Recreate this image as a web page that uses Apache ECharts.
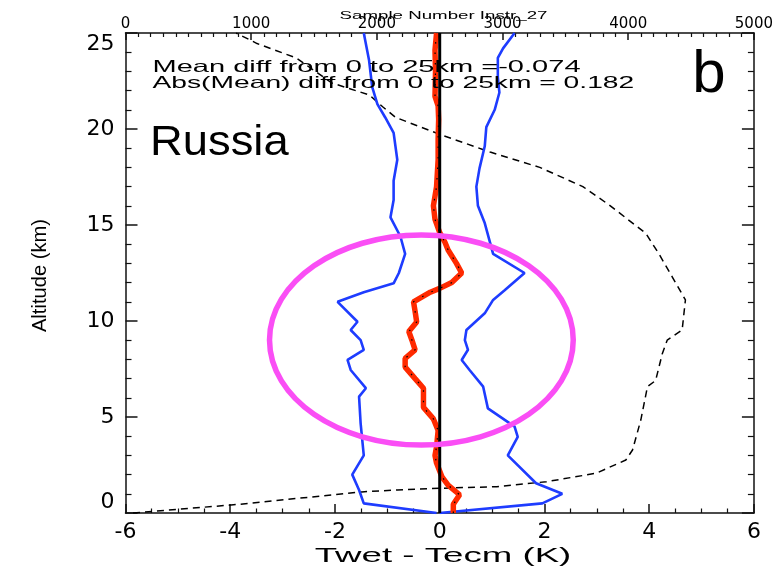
<!DOCTYPE html>
<html><head><meta charset="utf-8">
<script src="https://cdn.jsdelivr.net/npm/echarts@6/dist/echarts.min.js"></script>
<style>html,body{margin:0;padding:0;background:#fff}#c{width:776px;height:570px}</style>
</head><body><div id="c"></div>
<script>
// Tick values
const diffTicks = [-6, -4, -2, 0, 2, 4, 6];
const altTicks = [0, 5, 10, 15, 20, 25];
const sampleTicks = [0, 1000, 2000, 3000, 4000, 5000];

// Mean difference (red)
const meanAlt = [0, 0.45, 0.95, 1.45, 1.9, 2.6, 3.0, 3.45, 4.3, 4.9, 5.5, 6.5, 7.0, 7.6, 8.05, 8.5, 9.0, 9.45, 9.95, 10.5, 11.0, 11.5, 11.7, 12.0, 12.5, 13.0, 13.7, 14.1, 14.6, 15.3, 16.0, 17.0, 18.4, 19.5, 20.5, 21.2, 21.7, 23.0, 24.1, 25];
const meanDiff = [0.26, 0.26, 0.38, 0.16, 0.04, -0.06, -0.09, -0.06, -0.03, -0.12, -0.31, -0.31, -0.47, -0.66, -0.66, -0.47, -0.53, -0.59, -0.44, -0.47, -0.50, -0.18, 0.0, 0.23, 0.42, 0.32, 0.16, 0.10, 0.0, -0.09, -0.12, -0.06, -0.03, -0.03, -0.02, -0.03, -0.09, -0.08, -0.09, -0.06];

// Mean - std (left blue)
const lowAlt = [0, 0.5, 1.2, 2.0, 3.0, 4.67, 6.06, 6.5, 7.45, 7.97, 8.5, 9.0, 9.53, 9.96, 11.0, 11.5, 11.96, 12.5, 13.5, 14.4, 15.4, 16.3, 17.3, 18.4, 19.8, 20.6, 21.3, 22.2, 23.6, 25];
const lowDiff = [-0.06, -1.45, -1.54, -1.67, -1.45, -1.51, -1.54, -1.41, -1.70, -1.76, -1.45, -1.51, -1.70, -1.57, -1.95, -1.45, -0.88, -0.78, -0.66, -0.75, -0.94, -0.88, -0.88, -0.81, -0.88, -1.04, -1.19, -1.29, -1.35, -1.45];

// Mean + std (right blue)
const highAlt = [0, 0.5, 1.0, 1.55, 3.0, 3.97, 4.5, 5.45, 6.58, 7.45, 7.97, 8.5, 9.0, 9.53, 10.4, 11.1, 11.6, 12.5, 13.5, 14.2, 15.1, 16.0, 17.0, 17.95, 19.1, 20.1, 21.0, 21.9, 22.7, 23.7, 24.2, 25];
const highDiff = [0.0, 1.96, 2.34, 1.84, 1.30, 1.49, 1.43, 0.92, 0.83, 0.57, 0.42, 0.54, 0.48, 0.51, 0.86, 1.02, 1.24, 1.62, 1.02, 0.95, 0.86, 0.73, 0.70, 0.76, 0.86, 0.89, 1.05, 1.14, 1.11, 1.11, 1.21, 1.43];

// Sample number (dashed, top axis)
const sampleAlt = [0, 0.45, 1.1, 1.2, 1.29, 1.37, 1.63, 2.07, 2.76, 3.28, 4.84, 6.58, 6.9, 8.3, 9.0, 9.53, 11.1, 12.3, 13.5, 14.57, 16.04, 17.0, 18.0, 18.8, 19.7, 20.6, 21.16, 21.77, 22.4, 23.7, 24.45, 25];
const sampleNum = [60, 900, 1880, 2164, 2506, 2954, 3349, 3744, 3981, 4034, 4100, 4153, 4218, 4271, 4310, 4429, 4455, 4350, 4244, 4139, 3849, 3639, 3296, 2901, 2510, 2150, 2046, 1941, 1641, 1359, 1047, 880];

// Zero reference line
const zeroX = [0, 0];
const zeroAlt = [0, 25];

// Highlight ellipse (data units)
const ellipseCenter = [-0.35, 9.01];
const ellipseRadii = [2.9, 5.47];

const zip = (xs, ys) => xs.map((v, i) => [v, ys[i]]);

const chart = echarts.init(document.getElementById('c'));
const axisLineStyle = { color: '#111', width: 1.5 };
const lblFont = 'DejaVu Sans';
const plain = v => String(v);

const option = {
  animation: false,
  backgroundColor: '#fff',
  grid: { left: 125.5, right: 16.5, top: 33, bottom: 57, containLabel: false },
  xAxis: [
    {
      type: 'value', position: 'bottom',
      min: diffTicks[0], max: diffTicks[diffTicks.length - 1], interval: diffTicks[1] - diffTicks[0],
      axisLine: { show: true, onZero: false, lineStyle: axisLineStyle },
      axisTick: { show: true, inside: true, length: 9, lineStyle: axisLineStyle },
      minorTick: { show: true, splitNumber: 4, length: 4.5, lineStyle: { color: '#111', width: 1.2 } },
      splitLine: { show: false },
      axisLabel: { color: '#000', fontFamily: lblFont, fontSize: 22, margin: 8, formatter: plain }
    },
    {
      type: 'value', position: 'top',
      min: sampleTicks[0], max: sampleTicks[sampleTicks.length - 1], interval: sampleTicks[1] - sampleTicks[0],
      axisLine: { show: true, onZero: false, lineStyle: axisLineStyle },
      axisTick: { show: true, inside: true, length: 7, lineStyle: axisLineStyle },
      minorTick: { show: true, splitNumber: 10, length: 4, lineStyle: { color: '#111', width: 1.2 } },
      splitLine: { show: false },
      axisLabel: { color: '#000', fontFamily: lblFont, fontSize: 15, margin: 1, formatter: plain }
    }
  ],
  yAxis: [
    {
      type: 'value', position: 'left',
      min: altTicks[0], max: altTicks[altTicks.length - 1], interval: altTicks[1] - altTicks[0],
      axisLine: { show: true, onZero: false, lineStyle: axisLineStyle },
      axisTick: { show: true, inside: true, length: 12, lineStyle: axisLineStyle },
      minorTick: { show: true, splitNumber: 5, length: 6, lineStyle: { color: '#111', width: 1.2 } },
      splitLine: { show: false },
      axisLabel: { color: '#000', fontFamily: lblFont, fontSize: 22, margin: 11, formatter: plain,
        verticalAlignMaxLabel: 'top', verticalAlignMinLabel: 'bottom' }
    },
    {
      type: 'value', position: 'right',
      min: altTicks[0], max: altTicks[altTicks.length - 1], interval: altTicks[1] - altTicks[0],
      axisLine: { show: true, onZero: false, lineStyle: axisLineStyle },
      axisTick: { show: true, inside: true, length: 12, lineStyle: axisLineStyle },
      minorTick: { show: true, splitNumber: 5, length: 6, lineStyle: { color: '#111', width: 1.2 } },
      splitLine: { show: false },
      axisLabel: { show: false }
    }
  ],
  series: [
    {
      name: 'Sample Number', type: 'line', xAxisIndex: 1, yAxisIndex: 0,
      data: zip(sampleNum, sampleAlt), symbol: 'none', z: 2,
      lineStyle: { color: '#000', width: 1.5, type: [7, 5] }
    },
    {
      name: 'Mean - std', type: 'line', xAxisIndex: 0, yAxisIndex: 0,
      data: zip(lowDiff, lowAlt), symbol: 'none', z: 3,
      lineStyle: { color: '#1e3cff', width: 2.6 }
    },
    {
      name: 'Mean + std', type: 'line', xAxisIndex: 0, yAxisIndex: 0,
      data: zip(highDiff, highAlt), symbol: 'none', z: 3,
      lineStyle: { color: '#1e3cff', width: 2.6 }
    },
    {
      name: 'Mean diff', type: 'line', xAxisIndex: 0, yAxisIndex: 0,
      data: zip(meanDiff, meanAlt), symbol: 'none', z: 4,
      lineStyle: { color: '#ff2a00', width: 5.5 }
    },
    {
      name: 'Mean diff dots', type: 'line', xAxisIndex: 0, yAxisIndex: 0,
      data: zip(meanDiff, meanAlt), symbol: 'none', z: 5,
      lineStyle: { color: '#000', width: 1.2, type: [1.5, 9] }
    },
    {
      name: 'Zero', type: 'line', xAxisIndex: 0, yAxisIndex: 0,
      data: zip(zeroX, zeroAlt), symbol: 'none', z: 6,
      lineStyle: { color: '#000', width: 3 }
    }
  ]
};
chart.setOption(option);

const pc = chart.convertToPixel({ xAxisIndex: 0, yAxisIndex: 0 }, ellipseCenter);
const pr = chart.convertToPixel({ xAxisIndex: 0, yAxisIndex: 0 }, [ellipseCenter[0] + ellipseRadii[0], ellipseCenter[1] + ellipseRadii[1]]);

const txt = (id, text, x, y, font, align, valign, scaleX, extra) => Object.assign({
  type: 'text', id, x, y, scaleX: scaleX || 1, z: 120,
  style: { text, font, fill: '#000', textAlign: align, textVerticalAlign: valign }
}, extra || {});

chart.setOption({
  graphic: [
    {
      type: 'ellipse', id: 'ell', z: 110,
      shape: { cx: pc[0], cy: pc[1], rx: pr[0] - pc[0], ry: pc[1] - pr[1] },
      style: { fill: 'none', stroke: '#fa4ef5', lineWidth: 5.5 }
    },
    txt('t1', 'Mean diff from 0 to 25km =-0.074', 152.5, 67, '16.5px "Liberation Sans"', 'left', 'middle', 1.76),
    txt('t2', 'Abs(Mean) diff from 0 to 25km = 0.182', 152.5, 83.5, '16.5px "Liberation Sans"', 'left', 'middle', 1.71),
    txt('t3', 'Russia', 150, 143, '42px "Liberation Sans"', 'left', 'middle', 1.08),
    txt('t4', 'b', 709, 75, '60px "Liberation Sans"', 'center', 'middle', 1),
    txt('t5', 'Sample Number Instr_27', 443.5, 15.5, '11px "Liberation Sans"', 'center', 'middle', 1.7),
    txt('t6', 'Twet - Tecm (K)', 443, 557, '19.5px "Liberation Sans"', 'center', 'middle', 1.88),
    txt('t7', 'Altitude (km)', 40, 275.5, '21px "Liberation Sans"', 'center', 'middle', 0.96, { rotation: Math.PI / 2 })
  ]
});
</script>
</body></html>
